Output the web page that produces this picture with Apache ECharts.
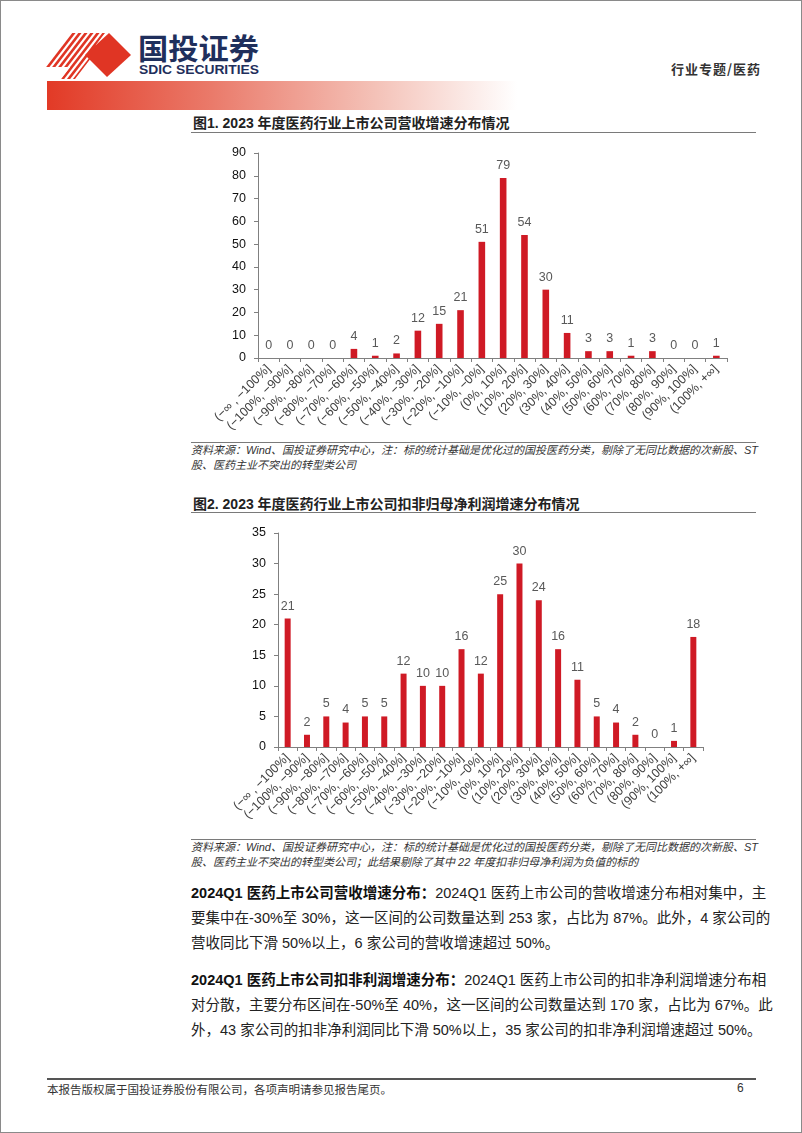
<!DOCTYPE html>
<html><head><meta charset="utf-8">
<script src="https://cdn.jsdelivr.net/npm/echarts@6/dist/echarts.min.js"></script>
<style>
html,body{margin:0;padding:0;background:#fff;}
#page{position:relative;width:800px;height:1131px;border:1px solid #8a8a8a;overflow:hidden;font-family:"Liberation Sans","Noto Sans CJK SC",sans-serif;color:#222;}
.abs{position:absolute;}
.hdr{left:670px;top:58px;font-size:13px;font-weight:bold;letter-spacing:1px;color:#333;font-family:"Noto Sans CJK SC",sans-serif;}
.band{left:46px;top:80px;width:470px;height:29px;background:linear-gradient(to right,#e23a26 0%,#ea7a6a 35%,#f4c2b8 70%,#fff 100%);}
.title{left:192px;font-size:14px;font-weight:bold;color:#222;font-family:"Liberation Sans","Noto Sans CJK SC",sans-serif;white-space:nowrap;}
.rule{left:190px;width:565px;height:0;border-top:1.5px solid #7a7a7a;}
.src{left:190px;width:565px;font-size:11px;font-style:italic;color:#333;line-height:15px;font-family:"Liberation Sans","Noto Sans CJK SC",sans-serif;}
.j{text-align:justify;text-align-last:justify;white-space:nowrap;}
.para{left:190px;width:567px;font-size:14.5px;line-height:25px;color:#222;font-family:"Liberation Sans","Noto Sans CJK SC",sans-serif;}
.para div{white-space:nowrap;}
.para b{font-weight:bold;color:#111;}
.chart{position:absolute;}
</style></head><body>
<div id="page">
  <svg class="abs" style="left:0;top:0" width="300" height="80" viewBox="0 0 300 80">
    <defs><clipPath id="cp"><polygon points="44,66 70,32 104,32 78,66"/><polygon points="60,78 86,44 100,44 74,78"/></clipPath></defs>
    <g stroke="#e03524" stroke-width="2.6" clip-path="url(#cp)">
      <line x1="30" y1="80" x2="70" y2="28"/><line x1="36" y1="80" x2="76" y2="28"/><line x1="42" y1="80" x2="82" y2="28"/>
      <line x1="48" y1="80" x2="88" y2="28"/><line x1="54" y1="80" x2="94" y2="28"/><line x1="60" y1="80" x2="100" y2="28"/>
      <line x1="66" y1="80" x2="106" y2="28"/><line x1="72" y1="80" x2="112" y2="28"/>
    </g>
    <polygon points="108,32 130,54 106,76 84,54" fill="#e03524"/>
    <text x="137" y="59" font-size="29" font-weight="bold" fill="#1f2f5c" font-family="Noto Sans CJK SC" textLength="121" lengthAdjust="spacingAndGlyphs">国投证券</text>
    <text x="138" y="73" font-size="13.5" font-weight="bold" fill="#1f2f5c" font-family="Liberation Sans" textLength="120" lengthAdjust="spacingAndGlyphs">SDIC SECURITIES</text>
  </svg>
  <div class="abs hdr">行业专题/医药</div>
  <div class="abs band"></div>

  <div class="abs title" style="top:111px">图1. 2023 年度医药行业上市公司营收增速分布情况</div>
  <div class="abs rule" style="top:131px"></div>
  <div id="c1" class="chart" style="left:180px;top:138px;width:575px;height:300px"></div>
  <div class="abs rule" style="top:441px"></div>
  <div class="abs src" style="top:442px">
    <div class="j">资料来源：Wind、国投证券研究中心，注：标的统计基础是优化过的国投医药分类，剔除了无同比数据的次新股、ST</div>
    <div>股、医药主业不突出的转型类公司</div>
  </div>

  <div class="abs title" style="top:492px">图2. 2023 年度医药行业上市公司扣非归母净利润增速分布情况</div>
  <div class="abs rule" style="top:511px"></div>
  <div id="c2" class="chart" style="left:180px;top:515px;width:575px;height:320px"></div>
  <div class="abs rule" style="top:838px"></div>
  <div class="abs src" style="top:839px">
    <div class="j">资料来源：Wind、国投证券研究中心，注：标的统计基础是优化过的国投医药分类，剔除了无同比数据的次新股、ST</div>
    <div>股、医药主业不突出的转型类公司；此结果剔除了其中 22 年度扣非归母净利润为负值的标的</div>
  </div>

  <div class="abs para" style="top:880px">
    <div class="j"><b>2024Q1 医药上市公司营收增速分布：</b>2024Q1 医药上市公司的营收增速分布相对集中，主</div>
    <div class="j">要集中在-30%至 30%，这一区间的公司数量达到 253 家，占比为 87%。此外，4 家公司的</div>
    <div>营收同比下滑 50%以上，6 家公司的营收增速超过 50%。</div>
  </div>
  <div class="abs para" style="top:967px">
    <div class="j"><b>2024Q1 医药上市公司扣非利润增速分布：</b>2024Q1 医药上市公司的扣非净利润增速分布相</div>
    <div class="j">对分散，主要分布区间在-50%至 40%，这一区间的公司数量达到 170 家，占比为 67%。此</div>
    <div>外，43 家公司的扣非净利润同比下滑 50%以上，35 家公司的扣非净利润增速超过 50%。</div>
  </div>

  <div class="abs" style="left:46px;top:1077px;width:709px;border-top:2px solid #555;"></div>
  <div class="abs" style="left:46px;top:1080px;font-size:11.5px;color:#333;font-family:'Noto Sans CJK SC',sans-serif;">本报告版权属于国投证券股份有限公司，各项声明请参见报告尾页。</div>
  <div class="abs" style="left:736px;top:1080px;font-size:12px;color:#333;">6</div>
</div>
<script>
const categories = ["(−∞ , −100%]","(−100%, −90%]","(−90%, −80%]","(−80%, −70%]","(−70%, −60%]","(−60%, −50%]","(−50%, −40%]","(−40%, −30%]","(−30%, −20%]","(−20%, −10%]","(−10%, −0%]","(0%, 10%]","(10%, 20%]","(20%, 30%]","(30%, 40%]","(40%, 50%]","(50%, 60%]","(60%, 70%]","(70%, 80%]","(80%, 90%]","(90%, 100%]","(100%, +∞]"];
const revenueCounts = [0,0,0,0,4,1,2,12,15,21,51,79,54,30,11,3,3,1,3,0,0,1];
const profitCounts = [21,2,5,4,5,5,12,10,10,16,12,25,30,24,16,11,5,4,2,0,1,18];
const revenueAxis = {min:0,max:90,interval:10};
const profitAxis = {min:0,max:35,interval:5};

function build(el, values, ax, grid){
  const c = echarts.init(document.getElementById(el), null, {renderer:'canvas'});
  c.setOption({
    animation:false,
    grid:grid,
    xAxis:{type:'category',data:categories,boundaryGap:true,
      axisLine:{lineStyle:{color:'#808080',width:1}},
      axisTick:{show:true,length:4,lineStyle:{color:'#808080'}},
      axisLabel:{interval:0,rotate:45,fontSize:12.5,color:'#404040',margin:9,fontFamily:'Liberation Sans'}},
    yAxis:{type:'value',min:ax.min,max:ax.max,interval:ax.interval,
      axisLine:{show:true,lineStyle:{color:'#808080',width:1}},
      axisTick:{show:true,length:4,lineStyle:{color:'#808080'}},
      splitLine:{show:false},
      axisLabel:{fontSize:12.5,color:'#111',margin:12,fontFamily:'Liberation Sans'}},
    series:[{type:'bar',data:values,barWidth:'31%',itemStyle:{color:'#cf1a25'},
      label:{show:true,position:'top',distance:6,fontSize:12.5,color:'#595959',fontFamily:'Liberation Sans'}}]
  });
}
build('c1', revenueCounts, revenueAxis, {left:77,top:14,width:469,height:205});
build('c2', profitCounts, profitAxis, {left:97,top:17,width:425,height:214});
</script>
</body></html>
